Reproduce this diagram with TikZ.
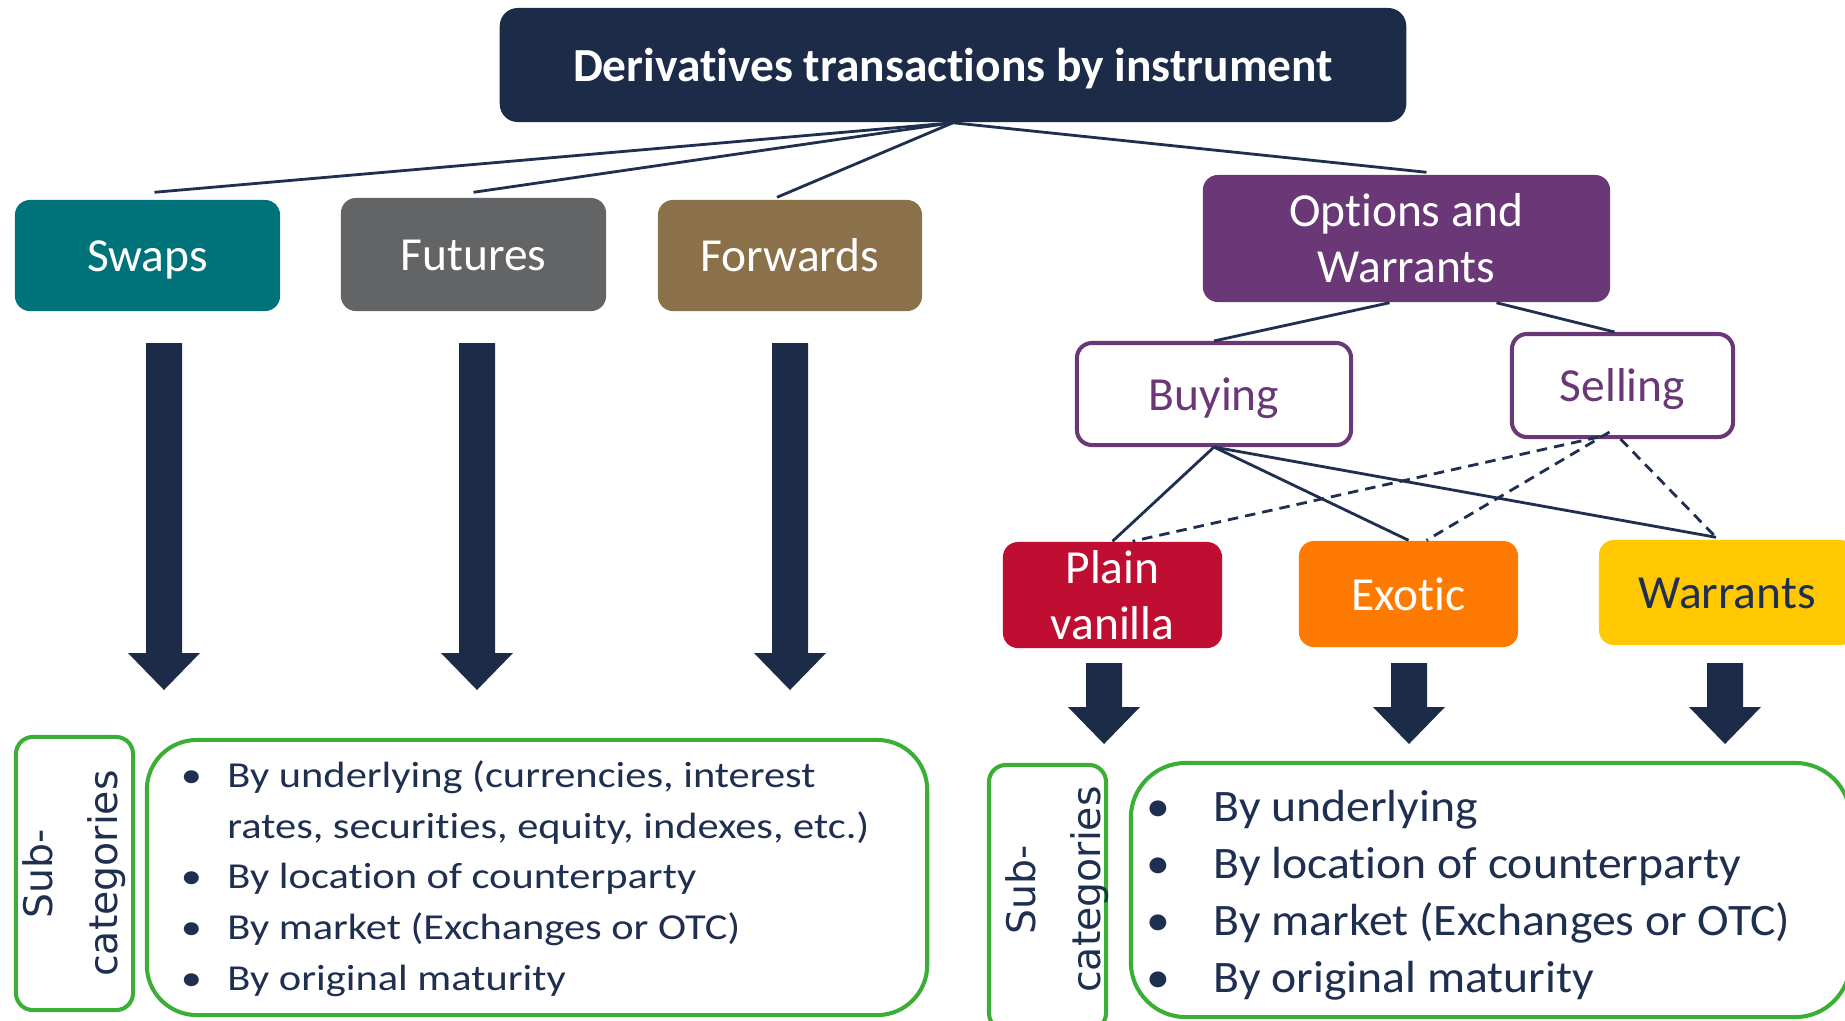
\documentclass[tikz,border=0pt]{standalone}
\usepackage{fontspec}
\setmainfont{Carlito}[Ligatures={NoCommon,NoContextual}]
\newfontfamily\dejavu{DejaVu Sans}
\usetikzlibrary{calc,positioning}
\definecolor{navy}{HTML}{1B2B48}
\definecolor{inknavy}{HTML}{1F2F50}
\definecolor{swapteal}{HTML}{00737A}
\definecolor{futgray}{HTML}{636466}
\definecolor{fwdbrown}{HTML}{8B7149}
\definecolor{optpurple}{HTML}{6B3877}
\definecolor{vanred}{HTML}{C00D32}
\definecolor{exoorange}{HTML}{FF7A00}
\definecolor{warryellow}{HTML}{FFC800}
\definecolor{subgreen}{HTML}{3AAE35}
\newcommand{\fatarrow}[4]{\fill[navy] (#1-18,#2) -- (#1+18,#2) -- (#1+18,#3) -- (#1+36,#3) -- (#1,#4) -- (#1-36,#3) -- (#1-18,#3) -- cycle;}
\newcommand{\itmL}{\makebox[1.1em][l]{\textbullet}}
\newcommand{\itmR}{\makebox[1.4em][l]{\textbullet}}

\begin{document}
\begin{tikzpicture}[x=0.01cm,y=-0.01cm,
    box/.style={rounded corners=0.15cm, text=white, align=center, inner sep=0pt, font=\fontsize{13.5}{16}\selectfont},
    oneline/.style={text height=12.7pt, text depth=3.4pt},
    sidebox/.style={draw=optpurple, line width=1.15pt, fill=white, rounded corners=0.15cm, text=optpurple, inner sep=0pt, oneline, font=\fontsize{13.5}{16}\selectfont},
    link/.style={draw=inknavy, line width=0.8pt},
    sell/.style={link, dash pattern=on 3pt off 2pt},
    greenbox/.style={draw=subgreen, line width=1.15pt, fill=white},
    subtxt/.style={rotate=90, align=center, text=inknavy, inner sep=0pt, font=\dejavu\fontsize{11.2}{18.5}\selectfont},
    listtxt/.style={align=left, text=inknavy, inner sep=0pt, anchor=north west}]
        \fill[white] (0,0) rectangle (1845,1020);
        \useasboundingbox (0,0) rectangle (1845,1020);

        \node[box, oneline, fill=navy, rounded corners=0.18cm, minimum width=9.06cm, minimum height=1.14cm, font=\bfseries\fontsize{13.5}{16}\selectfont] (title) at (953,65) {Derivatives transactions by instrument};

        \node[box, oneline, fill=swapteal, minimum width=2.65cm, minimum height=1.11cm] (swaps) at (147.5,255.5) {Swaps};
        \node[box, oneline, fill=futgray, minimum width=2.65cm, minimum height=1.13cm] (futures) at (473.5,254.5) {Futures};
        \node[box, oneline, fill=fwdbrown, minimum width=2.64cm, minimum height=1.11cm] (forwards) at (790,255.5) {Forwards};
        \node[box, fill=optpurple, minimum width=4.07cm, minimum height=1.27cm] (options) at (1406.5,238.5) {Options and\\Warrants};

        \node[sidebox, minimum width=2.74cm, minimum height=1.02cm] (buying) at (1214,394) {Buying};
        \node[sidebox, minimum width=2.21cm, minimum height=1.03cm] (selling) at (1622.5,385.5) {Selling};

        \node[box, fill=vanred, minimum width=2.19cm, minimum height=1.06cm] (vanilla) at (1112.5,595) {Plain\\vanilla};
        \node[box, oneline, fill=exoorange, minimum width=2.19cm, minimum height=1.06cm] (exotic) at (1408.5,594) {Exotic};
        \node[box, oneline, fill=warryellow, text=inknavy, minimum width=2.56cm, minimum height=1.05cm] (warrants) at (1727,592.5) {Warrants};

        % top level links
        \draw[link] (title.south) -- ($(swaps.north)+(7,-7)$);
        \draw[link] (title.south) -- ($(futures.north)+(0,-5)$);
        \draw[link] (title.south) -- ($(forwards.north)+(-13,-2)$);
        \draw[link] (title.south) -- ($(options.north)+(20,-2)$);
        \draw[link] ($(options.south)+(-17,0)$) -- (buying.north);
        \draw[link] ($(options.south)+(90,0)$) -- ($(selling.north)+(-8,0)$);

        % buying / selling
        \draw[link] (buying.south) -- (vanilla.north);
        \draw[link] (buying.south) -- (exotic.north);
        \draw[link] (buying.south) -- ($(warrants.north)+(-11,-2)$);
        \draw[sell] ($(selling.south)+(-24,-2)$) -- ($(vanilla.north)+(20,0)$);
        \draw[sell] ($(selling.south)+(-13,-7)$) -- ($(exotic.north)+(18,0)$);
        \draw[sell] ($(selling.south)+(-2,0)$) -- ($(warrants.north)+(-11,-2)$);

        \foreach \ax in {164,477,790} {\fatarrow{\ax}{343}{653}{690}}
        \foreach \ax in {1104,1409,1725} {\fatarrow{\ax}{663}{707}{744}}

        \node[greenbox, rounded corners=0.17cm, minimum width=1.17cm, minimum height=2.73cm] (subL) at (74.5,873.5) {};
        \node[greenbox, rounded corners=0.5cm, minimum width=7.80cm, minimum height=2.75cm] (listboxL) at (537,877.5) {};
        \node[subtxt] (subLtxt) at (subL.center) {Sub-\\categories};
        \node[listtxt, xscale=1.16, font=\fontsize{10.4}{14.4}\selectfont] (listL) at (180,760) {\itmL By underlying (currencies, interest\\\hspace*{1.1em}rates, securities, equity, indexes, etc.)\\\itmL By location of counterparty\\\itmL By market (Exchanges or OTC)\\\itmL By original maturity};

        \node[greenbox, rounded corners=0.17cm, minimum width=1.17cm, minimum height=2.65cm] (subR) at (1047.5,897.5) {};
        \node[greenbox, rounded corners=0.55cm, minimum width=7.19cm, minimum height=2.54cm] (listboxR) at (1490.5,890) {};
        \node[subtxt] (subRtxt) at ($(subR.center)+(10,-8)$) {Sub-\\categories};
        \node[listtxt, xscale=1.06, font=\fontsize{12.8}{16.2}\selectfont] (listR) at (1146,790) {\itmR By underlying\\\itmR By location of counterparty\\\itmR By market (Exchanges or OTC)\\\itmR By original maturity};
      \end{tikzpicture}
\end{document}
